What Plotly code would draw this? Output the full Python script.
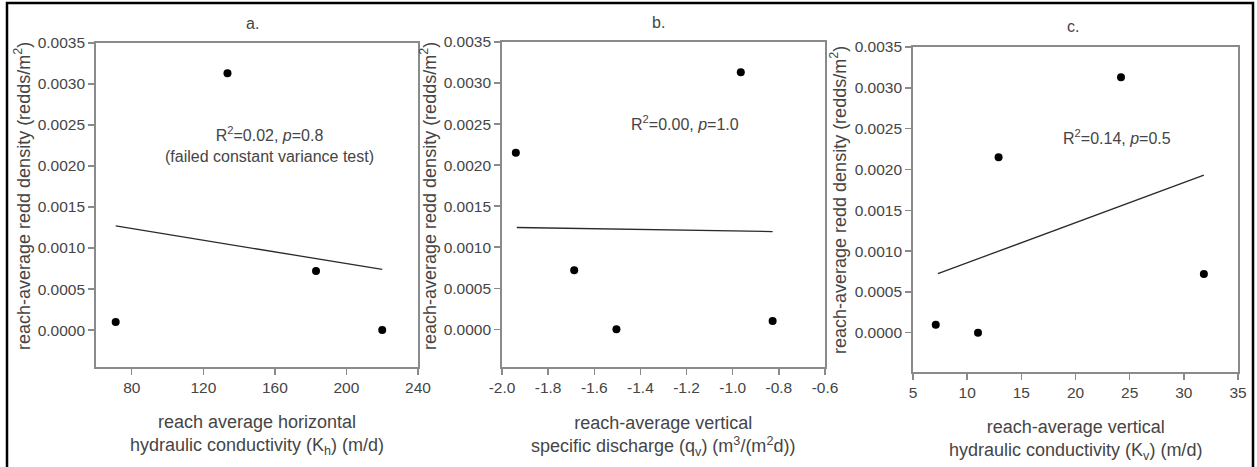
import plotly.graph_objects as go

W, H = 1257, 467

# ---------------- data ----------------
# panel a: reach-average horizontal hydraulic conductivity (m/d)
kh = [133.5, 71, 183, 220]
density_a = [0.00313, 0.00010, 0.00072, 0.00000]
fit_a_x = [71, 220]
fit_a_y = [0.00127, 0.00074]

# panel b: reach-average vertical specific discharge
qv = [-1.94, -0.965, -1.687, -1.504, -0.827]
density_b = [0.00215, 0.00313, 0.00072, 0.00000, 0.00010]
fit_b_x = [-1.936, -0.827]
fit_b_y = [0.00124, 0.00119]

# panel c: reach-average vertical hydraulic conductivity (m/d)
kv = [12.9, 24.2, 7.1, 11.0, 31.85]
density_c = [0.00215, 0.00313, 0.00010, 0.00000, 0.00072]
fit_c_x = [7.3, 31.85]
fit_c_y = [0.000725, 0.00193]

y_ticks = [0.0, 0.0005, 0.0010, 0.0015, 0.0020, 0.0025, 0.0030, 0.0035]
y_tick_labels = ["0.0000", "0.0005", "0.0010", "0.0015", "0.0020", "0.0025", "0.0030", "0.0035"]
xa_ticks = [80, 120, 160, 200, 240]
xa_tick_labels = ["80", "120", "160", "200", "240"]
xb_ticks = [-2.0, -1.8, -1.6, -1.4, -1.2, -1.0, -0.8, -0.6]
xb_tick_labels = ["-2.0", "-1.8", "-1.6", "-1.4", "-1.2", "-1.0", "-0.8", "-0.6"]
xc_ticks = [5, 10, 15, 20, 25, 30, 35]
xc_tick_labels = ["5", "10", "15", "20", "25", "30", "35"]

panel_titles = ["a.", "b.", "c."]
stat_texts = [
    "R<sup>2</sup>=0.02, <i>p</i>=0.8<br>(failed constant variance test)",
    "R<sup>2</sup>=0.00, <i>p</i>=1.0",
    "R<sup>2</sup>=0.14, <i>p</i>=0.5",
]
x_titles = [
    "reach average horizontal<br>hydraulic conductivity (K<sub>h</sub>) (m/d)",
    "reach-average vertical<br>specific discharge (q<sub>v</sub>) (m<sup>3</sup>/(m<sup>2</sup>d))",
    "reach-average vertical<br>hydraulic conductivity (K<sub>v</sub>) (m/d)",
]
y_title = "reach-average redd density (redds/m<sup>2</sup>)"

# ---------------- layout helpers ----------------
FONT = "Arial, Liberation Sans, sans-serif"
TXT = "#454545"
AX = "#8a8a8a"


def px(x):
    return x / W


def py(y):
    return 1 - y / H


# plot-area boxes in pixels: (left, top, right, bottom)
boxes = [(96, 43, 418, 367), (502, 42, 825, 367), (913, 47, 1238, 372)]

fig = go.Figure()

series = [
    (kh, density_a, fit_a_x, fit_a_y),
    (qv, density_b, fit_b_x, fit_b_y),
    (kv, density_c, fit_c_x, fit_c_y),
]
for i, (xs, ys, fx, fy) in enumerate(series):
    ax = "" if i == 0 else str(i + 1)
    fig.add_trace(go.Scatter(x=fx, y=fy, mode="lines",
                             line=dict(color="#2a2a2a", width=1.3),
                             xaxis="x" + ax, yaxis="y" + ax, showlegend=False))
    fig.add_trace(go.Scatter(x=xs, y=ys, mode="markers",
                             marker=dict(color="black", size=8),
                             xaxis="x" + ax, yaxis="y" + ax, showlegend=False))

common = dict(showline=True, mirror=True, linecolor=AX, linewidth=1.8,
              ticks="outside", ticklen=6, tickwidth=1.4, tickcolor=AX,
              showgrid=False, zeroline=False, automargin=False,
              tickfont=dict(family=FONT, size=15.5, color=TXT))

x_specs = [
    dict(range=[60, 240], tickvals=xa_ticks, ticktext=xa_tick_labels),
    dict(range=[-2.0, -0.6], tickvals=xb_ticks, ticktext=xb_tick_labels),
    dict(range=[5, 35], tickvals=xc_ticks, ticktext=xc_tick_labels),
]
y_ranges = [[-0.00045, 0.0035], [-0.00046, 0.0035], [-0.00048, 0.0035]]

layout = dict(template="none", width=W, height=H,
              margin=dict(l=0, r=0, t=0, b=0, autoexpand=False),
              paper_bgcolor="white", plot_bgcolor="white",
              font=dict(family=FONT, color=TXT), showlegend=False)
for i, (l, t, r, b) in enumerate(boxes):
    ax = "" if i == 0 else str(i + 1)
    layout["xaxis" + ax] = dict(domain=[px(l), px(r)], anchor="y" + ax,
                                **x_specs[i], **common)
    layout["yaxis" + ax] = dict(domain=[py(b), py(t)], anchor="x" + ax,
                                range=y_ranges[i], tickvals=y_ticks,
                                ticktext=y_tick_labels, **common)
fig.update_layout(**layout)

ann = []
title_pos = [(252, 23), (658, 22), (1073, 27)]
stat_pos = [(269, 144), (685, 123), (1117, 137)]
xt_pos = [(257, 435), (663, 436), (1075, 440)]
yt_pos = [(22, 196), (428, 196), (838, 200)]
for i in range(3):
    base = dict(xref="paper", yref="paper", showarrow=False,
                xanchor="center", yanchor="middle")
    ann.append(dict(x=px(title_pos[i][0]), y=py(title_pos[i][1]),
                    text=panel_titles[i],
                    font=dict(family=FONT, size=16, color=TXT), **base))
    ann.append(dict(x=px(stat_pos[i][0]), y=py(stat_pos[i][1]),
                    text=stat_texts[i],
                    font=dict(family=FONT, size=16, color=TXT), **base))
    ann.append(dict(x=px(xt_pos[i][0]), y=py(xt_pos[i][1]),
                    text=x_titles[i],
                    font=dict(family=FONT, size=18, color=TXT), **base))
    ann.append(dict(x=px(yt_pos[i][0]), y=py(yt_pos[i][1]),
                    text=y_title, textangle=-90,
                    font=dict(family=FONT, size=18, color=TXT), **base))
fig.update_layout(annotations=ann)

# outer black frame
fig.add_shape(type="rect", xref="paper", yref="paper",
              x0=px(7), x1=px(1253), y0=py(475), y1=py(3),
              line=dict(color="black", width=2.5))

fig.write_html("out.html",
               config={"displayModeBar": False, "staticPlot": True},
               post_script="document.body.style.margin='0px';"
                           "document.body.style.overflow='hidden';")
